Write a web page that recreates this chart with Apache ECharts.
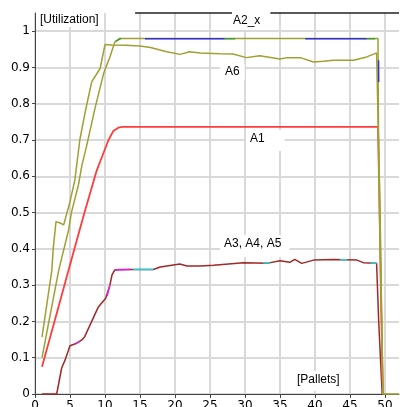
<!DOCTYPE html>
<html>
<head>
<meta charset="utf-8">
<script src="https://cdn.jsdelivr.net/npm/echarts@6/dist/echarts.min.js"></script>
<style>
  html, body { margin: 0; padding: 0; background: #fff; }
  #chart { width: 400px; height: 407px; }
</style>
</head>
<body>
<div id="chart"></div>
<script>
// tick labels
const xTicks = [0, 5, 10, 15, 20, 25, 30, 35, 40, 45, 50];
const yTicks = [0, 0.1, 0.2, 0.3, 0.4, 0.5, 0.6, 0.7, 0.8, 0.9, 1];

// A6 (olive, upper-left start)
const a6X = [1, 2.4, 2.6, 3.0, 3.5, 4.1, 5, 5.7, 6.4, 7.2, 8.1, 9.3, 10, 11, 13, 15, 16.5, 18.8, 20.7, 22.1, 23.6, 26.4, 28.3, 30.2, 32.1, 35, 36, 37.9, 39.8, 41.2, 42.6, 45.5, 47.4, 48.8, 49.05, 49.3, 49.7, 52];
const a6Y = [0.157, 0.34, 0.40, 0.475, 0.472, 0.466, 0.53, 0.59, 0.70, 0.78, 0.86, 0.897, 0.963, 0.962, 0.961, 0.959, 0.955, 0.943, 0.936, 0.943, 0.94, 0.938, 0.937, 0.927, 0.932, 0.923, 0.927, 0.927, 0.915, 0.917, 0.92, 0.92, 0.929, 0.94, 0.94, 0.5, 0, 0];

// A2 (olive, reaches 0.98)
const a2X = [1, 3.4, 4.8, 5.2, 6.2, 6.7, 7.4, 8.6, 9.8, 10.7, 11.4, 12.1, 49, 49.1, 49.7];
const a2Y = [0.10, 0.342, 0.452, 0.50, 0.576, 0.63, 0.686, 0.79, 0.883, 0.929, 0.97, 0.98, 0.98, 0.6, 0];

// blue / green overlays on A2 plateau
const blueX = [15.7, 27.1, 27.2, 38.6, 47.4, 47.5, 49.08, 49.1];
const blueY = [0.979, 0.979, null, 0.979, 0.979, null, 0.92, 0.86];
const greenX = [11.5, 12.3, 12.4, 27.1, 28.6, 28.7, 47.4, 48.6];
const greenY = [0.972, 0.98, null, 0.979, 0.979, null, 0.979, 0.979];

// A1 (red)
const a1X = [1, 2, 3, 4, 4.8, 6, 7.1, 8.2, 8.8, 9.3, 10.5, 11.2, 11.9, 12.5, 49, 49.2, 49.4, 49.7];
const a1Y = [0.075, 0.145, 0.215, 0.285, 0.342, 0.426, 0.502, 0.575, 0.615, 0.64, 0.70, 0.725, 0.734, 0.736, 0.736, 0.55, 0.3, 0];

// A3 (dark red)
const a3X = [1, 3.1, 3.8, 4.3, 5, 5.95, 6.7, 7.1, 8.1, 9.05, 10.1, 10.7, 11, 11.4, 12.1, 16.9, 17.9, 20.7, 21.7, 23.6, 25.5, 29.8, 33.1, 35, 36.4, 37.1, 38.1, 39.8, 42.6, 46, 46.9, 48.8, 49.1, 49.6];
const a3Y = [0, 0, 0.071, 0.094, 0.133, 0.14, 0.149, 0.158, 0.2, 0.24, 0.264, 0.30, 0.328, 0.342, 0.343, 0.343, 0.35, 0.358, 0.353, 0.353, 0.355, 0.362, 0.36, 0.367, 0.363, 0.371, 0.36, 0.369, 0.371, 0.369, 0.362, 0.36, 0.2, 0];

// A4 (magenta) and A5 (cyan) visible bits
const a4X = [5.8, 6.4, 6.5, 10.3, 10.7, 10.8, 11.4, 13.6];
const a4Y = [0.139, 0.145, null, 0.27, 0.30, null, 0.342, 0.343];
const a5X = [14, 16.9, 17, 32.6, 33.6, 33.7, 43.6, 44.6, 44.7, 47.9, 48.8];
const a5Y = [0.343, 0.343, null, 0.361, 0.361, null, 0.37, 0.37, null, 0.361, 0.36];

// A2_x (black, top edge)
const a2xX = [14.3, 52];
const a2xY = [1.05, 1.05];

const zip = (xs, ys) => xs.map((x, i) => [x, ys[i]]);

const chart = echarts.init(document.getElementById('chart'));

const gridGray = '#d9d9d9';
const splitColors = [gridGray, gridGray, gridGray, gridGray, gridGray, gridGray, gridGray, gridGray, gridGray, gridGray, gridGray, 'rgba(0,0,0,0)'];

const lineSeries = (name, xs, ys, color, width, z) => ({
  name: name,
  type: 'line',
  data: zip(xs, ys),
  showSymbol: false,
  symbol: 'none',
  connectNulls: false,
  clip: false,
  z: z,
  lineStyle: { color: color, width: width },
  itemStyle: { color: color }
});

const option = {
  animation: false,
  backgroundColor: '#fff',
  grid: { left: 35, right: 1, top: 13, bottom: 13, containLabel: false, outerBoundsMode: 'none' },
  xAxis: {
    type: 'value',
    min: 0,
    max: 52,
    interval: 5,
    axisLine: { show: true, lineStyle: { color: '#444', width: 1 } },
    axisTick: { show: true, length: 4, lineStyle: { color: '#444' }, customValues: xTicks },
    axisLabel: {
      customValues: xTicks,
      color: '#000',
      fontFamily: 'DejaVu Sans',
      fontSize: 12,
      margin: 6,
      formatter: v => (xTicks.indexOf(v) >= 0 ? String(v) : '')
    },
    splitLine: { show: true, lineStyle: { color: splitColors, width: 2 } }
  },
  yAxis: {
    type: 'value',
    min: 0,
    max: 1.05,
    interval: 0.1,
    axisLine: { show: true, lineStyle: { color: '#444', width: 1 } },
    axisTick: { show: true, length: 3, lineStyle: { color: '#444' }, customValues: yTicks },
    axisLabel: {
      customValues: yTicks,
      color: '#000',
      fontFamily: 'DejaVu Sans',
      fontSize: 12,
      margin: 5,
      formatter: v => {
        const r = Math.round(v * 10) / 10;
        return Math.abs(r - v) < 1e-6 ? String(r) : '';
      }
    },
    splitLine: { show: true, lineStyle: { color: splitColors, width: 2 } }
  },
  series: [
    lineSeries('A2_x', a2xX, a2xY, '#222', 1.5, 2),
    lineSeries('A3', a3X, a3Y, '#a02828', 1.5, 3),
    lineSeries('A4', a4X, a4Y, '#e020e0', 1.5, 4),
    lineSeries('A5', a5X, a5Y, '#20d4dc', 1.5, 4),
    lineSeries('A1', a1X, a1Y, '#ff3c3c', 1.8, 5),
    lineSeries('A6', a6X, a6Y, '#a0a032', 1.5, 6),
    lineSeries('A2', a2X, a2Y, '#a0a032', 1.5, 6),
    lineSeries('A2 blue', blueX, blueY, '#3232d2', 1.5, 7),
    lineSeries('A2 green', greenX, greenY, '#3c9c3c', 1.5, 7)
  ],
  graphic: [
    { type: 'text', left: 38, top: 13, z: 100, style: { text: '[Utilization]', font: '12px "Liberation Sans"', fill: '#000', backgroundColor: '#fff', padding: [1, 2] } },
    { type: 'text', left: 232, top: 12, z: 100, style: { text: 'A2_x', font: '12px "Liberation Sans"', fill: '#000', backgroundColor: '#fff', padding: [3, 10, 3, 1] } },
    { type: 'text', left: 220, top: 64, z: 100, style: { text: 'A6', font: '12px "Liberation Sans"', fill: '#000', backgroundColor: '#fff', padding: [2, 5] } },
    { type: 'text', left: 246, top: 130, z: 100, style: { text: 'A1', font: '12px "Liberation Sans"', fill: '#000', backgroundColor: '#fff', padding: [3, 20, 6, 4] } },
    { type: 'text', left: 220, top: 235, z: 100, style: { text: 'A3, A4, A5', font: '12px "Liberation Sans"', fill: '#000', backgroundColor: '#fff', padding: [3, 8, 7, 4] } },
    { type: 'text', left: 292, top: 371, z: 100, style: { text: '[Pallets]', font: '12px "Liberation Sans"', fill: '#000', backgroundColor: '#fff', padding: [3, 6, 5, 5] } }
  ]
};

chart.setOption(option);
</script>
</body>
</html>
